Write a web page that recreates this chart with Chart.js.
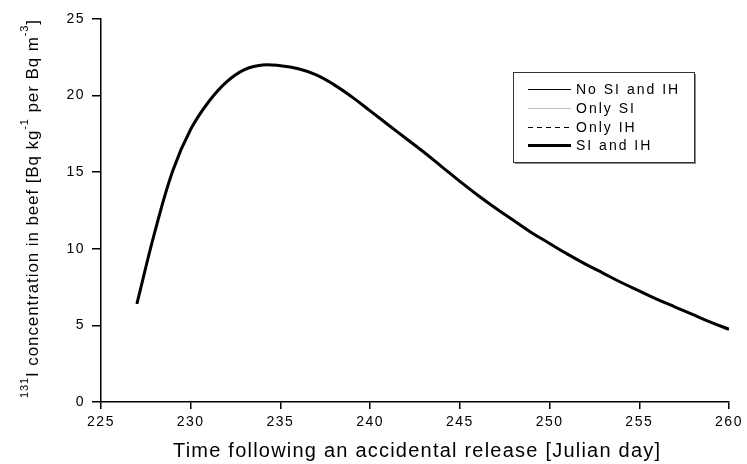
<!DOCTYPE html>
<html>
<head>
<meta charset="utf-8">
<script src="https://cdn.jsdelivr.net/npm/chart.js@4"></script>
<style>
  html, body { margin: 0; padding: 0; background: #fff; }
  #wrap { width: 747px; height: 464px; }
</style>
</head>
<body>
<div id="wrap"><canvas id="beefChart" width="747" height="464"></canvas></div>
<script>
// Julian days
const days = [227, 228, 229, 230, 231, 232, 233, 234, 235, 236, 237, 238, 239, 240, 241, 242, 243,
    244, 245, 246, 247, 248, 249, 250, 251, 252, 253, 254, 255, 256, 257, 258, 259, 260];

// 131I in beef, Bq/kg per Bq/m3 (the four cases overlap on the plot)
const noSiIh = [6.4, 11.1, 15.1, 17.8, 19.6, 20.9, 21.7, 22.0, 21.95, 21.75, 21.35, 20.7, 19.9, 19.0, 18.1,
    17.2, 16.3, 15.35, 14.4, 13.5, 12.65, 11.85, 11.05, 10.35, 9.65, 9.0, 8.4, 7.8, 7.25, 6.7, 6.2, 5.7, 5.2, 4.75];
const onlySi = [6.4, 11.1, 15.1, 17.8, 19.6, 20.9, 21.7, 22.0, 21.95, 21.75, 21.35, 20.7, 19.9, 19.0, 18.1,
    17.2, 16.3, 15.35, 14.4, 13.5, 12.65, 11.85, 11.05, 10.35, 9.65, 9.0, 8.4, 7.8, 7.25, 6.7, 6.2, 5.7, 5.2, 4.75];
const onlyIh = [6.4, 11.1, 15.1, 17.8, 19.6, 20.9, 21.7, 22.0, 21.95, 21.75, 21.35, 20.7, 19.9, 19.0, 18.1,
    17.2, 16.3, 15.35, 14.4, 13.5, 12.65, 11.85, 11.05, 10.35, 9.65, 9.0, 8.4, 7.8, 7.25, 6.7, 6.2, 5.7, 5.2, 4.75];
const siAndIh = [6.4, 11.1, 15.1, 17.8, 19.6, 20.9, 21.7, 22.0, 21.95, 21.75, 21.35, 20.7, 19.9, 19.0, 18.1,
    17.2, 16.3, 15.35, 14.4, 13.5, 12.65, 11.85, 11.05, 10.35, 9.65, 9.0, 8.4, 7.8, 7.25, 6.7, 6.2, 5.7, 5.2, 4.75];

const seriesLabels = ['No SI and IH', 'Only SI', 'Only IH', 'SI and IH'];
const xTitle = 'Time following an accidental release [Julian day]';

const FONT = '"Liberation Sans", Arial, sans-serif';

function toPoints(vals) {
    return days.map((d, i) => ({ x: d, y: vals[i] }));
}

// spread text so that it spans the given width
function fitSpacing(ctx, parts, width) {
    ctx.letterSpacing = '0px';
    let w = 0, n = 0;
    parts.forEach(p => {
        ctx.font = p.font;
        w += ctx.measureText(p.text).width;
        n += p.text.length;
    });
    return (width - w) / (n - 1);
}

function drawParts(ctx, parts, x, spacing) {
    ctx.letterSpacing = spacing + 'px';
    parts.forEach(p => {
        ctx.font = p.font;
        ctx.fillText(p.text, x, p.dy || 0);
        x += ctx.measureText(p.text).width;
    });
}

// axis titles + legend box drawn by hand (superscripts, legend inside plot)
const extras = {
    id: 'extras',
    beforeDraw(chart) {
        chart.ctx.letterSpacing = '1.5px';
    },
    afterDraw(chart) {
        const ctx = chart.ctx;
        ctx.save();
        ctx.fillStyle = '#000';
        ctx.textAlign = 'left';
        ctx.textBaseline = 'alphabetic';

        // x title
        const xParts = [{ text: xTitle, font: '20px ' + FONT }];
        const xs = fitSpacing(ctx, xParts, 487);
        ctx.save();
        ctx.translate(173, 457);
        drawParts(ctx, xParts, 0, xs);
        ctx.restore();

        // y title with superscripts
        const big = '17px ' + FONT, small = '11px ' + FONT;
        const yParts = [
            { text: '131', font: small, dy: -10 },
            { text: 'I concentration in beef [Bq kg', font: big },
            { text: '-1', font: small, dy: -10 },
            { text: ' per Bq m', font: big },
            { text: '-3', font: small, dy: -10 },
            { text: ']', font: big }
        ];
        const ys = fitSpacing(ctx, yParts, 378);
        ctx.save();
        ctx.translate(38, 398);
        ctx.rotate(-Math.PI / 2);
        drawParts(ctx, yParts, 0, ys);
        ctx.restore();
        ctx.restore();

        // legend
        ctx.save();
        const bx = 513, by = 72, bw = 181, bh = 90;
        ctx.fillStyle = '#8a8a8a';
        ctx.fillRect(bx + 2, by + 2, bw, bh);
        ctx.fillStyle = '#fff';
        ctx.fillRect(bx, by, bw, bh);
        ctx.strokeStyle = '#333';
        ctx.lineWidth = 1;
        ctx.strokeRect(bx + 0.5, by + 0.5, bw, bh);
        ctx.font = '14px ' + FONT;
        ctx.letterSpacing = '2px';
        ctx.textAlign = 'left';
        ctx.textBaseline = 'middle';
        chart.data.datasets.forEach((ds, i) => {
            const y = Math.round(89 + i * 18.8);
            const ly = ds.borderWidth % 2 ? y + 0.5 : y;
            ctx.beginPath();
            ctx.strokeStyle = ds.borderColor;
            ctx.lineWidth = ds.borderWidth;
            ctx.setLineDash(ds.borderDash || []);
            ctx.moveTo(528, ly);
            ctx.lineTo(571, ly);
            ctx.stroke();
            ctx.setLineDash([]);
            ctx.fillStyle = '#000';
            ctx.fillText(ds.label, 576, y + 1);
        });
        ctx.restore();
    }
};

const ctx = document.getElementById('beefChart').getContext('2d');
const beefChart = new Chart(ctx, {
    type: 'line',
    data: {
        datasets: [
            { label: seriesLabels[0], data: toPoints(noSiIh), borderColor: '#000', borderWidth: 1, order: 1 },
            { label: seriesLabels[1], data: toPoints(onlySi), borderColor: '#bdbdbd', borderWidth: 1, order: 2 },
            { label: seriesLabels[2], data: toPoints(onlyIh), borderColor: '#000', borderWidth: 1, borderDash: [5, 4], order: 3 },
            { label: seriesLabels[3], data: toPoints(siAndIh), borderColor: '#000', borderWidth: 3, order: 0 }
        ].map(ds => Object.assign(ds, { pointRadius: 0, tension: 0.4, fill: false }))
    },
    options: {
        responsive: false,
        animation: false,
        layout: { padding: { left: 0, right: 18, top: 19, bottom: 0 } },
        plugins: { legend: { display: false }, tooltip: { enabled: false } },
        scales: {
            x: {
                type: 'linear',
                min: 225,
                max: 260,
                afterFit(scale) { scale.height = 62; },
                ticks: { stepSize: 5, color: '#000', padding: 5, maxRotation: 0, font: { family: FONT, size: 14 } },
                grid: { drawOnChartArea: false, tickLength: 7, color: '#000', lineWidth: 1.5 },
                border: { color: '#000', width: 1.5 }
            },
            y: {
                min: 0,
                max: 25,
                afterFit(scale) { scale.width = 101; },
                ticks: { stepSize: 5, color: '#000', padding: 7, font: { family: FONT, size: 14 } },
                grid: { drawOnChartArea: false, tickLength: 9, color: '#000', lineWidth: 1.5 },
                border: { color: '#000', width: 1.5 }
            }
        }
    },
    plugins: [extras]
});
</script>
</body>
</html>
